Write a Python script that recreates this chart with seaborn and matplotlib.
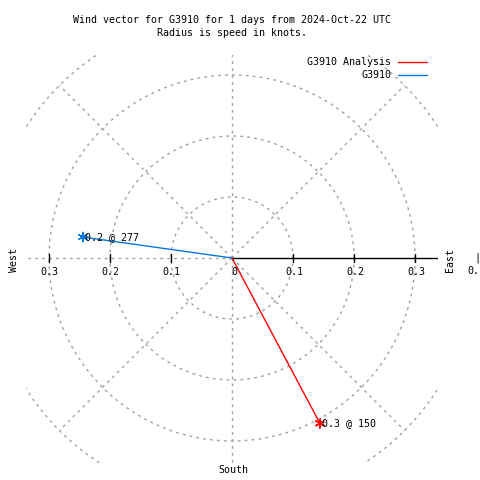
import numpy as np
import pandas as pd
import seaborn as sns
from matplotlib import pyplot as plt
from matplotlib.lines import Line2D

# data
series = ["G3910 Analysis", "G3910"]
speeds = [0.307, 0.247]          # knots
directions = [152, 278]          # degrees clockwise from north
point_labels = ["0.3 @ 150", "0.2 @ 277"]
colors = ["#ff0000", "#0a76e0"]
rings = [0.1, 0.2, 0.3, 0.4]
tick_vals = [0.1, 0.2, 0.3]
title_lines = ["Wind vector for G3910 for 1 days from 2024-Oct-22 UTC",
               "Radius is speed in knots."]

sns.set_style("white")
plt.rcParams["font.family"] = ["DejaVu Sans Mono", "DejaVu Sans"]
plt.rcParams["text.color"] = "black"
FS = 7.2
GRAY = "#a0a0a0"
DOT = (0, (2, 3))

fig = plt.figure(figsize=(4.8, 4.8), dpi=100)
W = 480.0
# pixel box of the plot: x 26..438, y 55..463, centre (232, 258), 610 px per knot
ax = fig.add_axes([26 / W, (W - 463) / W, 412 / W, 408 / W])
scale = 610.0
ax.set_xlim((26 - 232) / scale, (438 - 232) / scale)
ax.set_ylim((258 - 463) / scale, (258 - 55) / scale)
ax.set_axis_off()

# grid rings
th = np.linspace(0, 2 * np.pi, 400)
for r in rings:
    ax.plot(r * np.cos(th), r * np.sin(th), color=GRAY, lw=1, ls=DOT)

# radial grid lines every 45 deg (east is the solid axis)
for ang in range(45, 360, 45):
    a = np.radians(ang)
    ax.plot([0, rings[-1] * np.cos(a)], [0, rings[-1] * np.sin(a)], color=GRAY, lw=1, ls=DOT)

# east axis + ticks
ax.plot([0, 0.5], [0, 0], color="black", lw=1)
for t in tick_vals:
    for s in (1, -1):
        ax.plot([s * t, s * t], [-0.006, 0.006], color="black", lw=1)

def px(x, y):
    return x / W, 1 - y / W

for t in tick_vals:
    fig.text(*px(232 - t * scale, 272), f"{t:.1f}", ha="center", va="center", fontsize=FS)
    fig.text(*px(233 + t * scale, 272), f"{t:.1f}", ha="center", va="center", fontsize=FS)
fig.text(*px(234, 272), "0", ha="center", va="center", fontsize=FS)

fig.text(*px(14, 260), "West", ha="center", va="center", rotation=90, fontsize=FS)
fig.text(*px(450, 260), "East", ha="center", va="center", rotation=90, fontsize=FS)
fig.text(*px(233, 470), "South", ha="center", va="center", fontsize=FS)
fig.text(*px(477, 258), "|", ha="center", va="center", fontsize=FS)
fig.text(*px(467, 271), "0.", ha="left", va="center", fontsize=FS)

for i, line in enumerate(title_lines):
    fig.text(*px(232, 20 + 13 * i), line, ha="center", va="center", fontsize=FS)

# wind vectors
rows = []
for name, sp, d in zip(series, speeds, directions):
    a = np.radians(d)
    rows.append({"series": name, "x": 0.0, "y": 0.0, "end": False})
    rows.append({"series": name, "x": sp * np.sin(a), "y": sp * np.cos(a), "end": True})
df = pd.DataFrame(rows)
pal = dict(zip(series, colors))
sns.lineplot(data=df, x="x", y="y", hue="series", units="series", estimator=None,
             sort=False, palette=pal, lw=1, legend=False, ax=ax)
ends = df[df["end"]]
sns.scatterplot(data=ends, x="x", y="y", hue="series", palette=pal, marker=(6, 2, 0),
                s=45, linewidth=1, legend=False, ax=ax)
for (_, row), lab in zip(ends.iterrows(), point_labels):
    ax.text(row["x"] + 0.003, row["y"], lab, ha="left", va="center", fontsize=FS)

# legend (top right)
for i, (name, c) in enumerate(zip(series, colors)):
    y = 62 + 13 * i
    fig.text(*px(391, y), name, ha="right", va="center", fontsize=FS)
    fig.add_artist(Line2D([398 / W, 427 / W], [1 - y / W, 1 - y / W], color=c, lw=1))

fig.savefig("out.png", dpi=100)
